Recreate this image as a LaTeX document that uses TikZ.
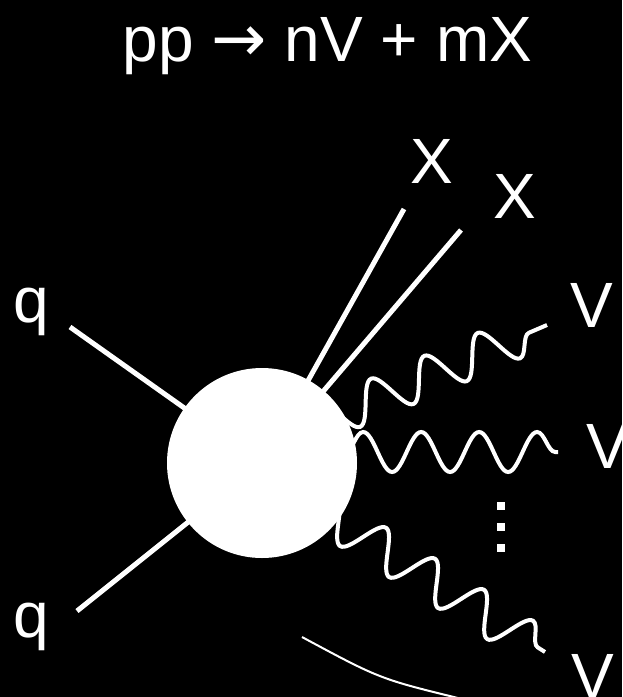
\documentclass[tikz,border=0pt]{standalone}
\usepackage{fontspec}
\setmainfont{Liberation Sans}
\newfontfamily\arrowfont{DejaVu Sans}
\usetikzlibrary{decorations.pathmorphing}
\begin{document}
\begin{tikzpicture}[x=1pt,y=-1pt,
  lbl/.style={text=white, font=\fontsize{64}{70}\selectfont, anchor=base, inner sep=0pt},
  quark/.style={draw=white, line width=5pt},
  photon/.style={draw=white, line width=4pt, decorate,
    decoration={snake, amplitude=20pt, segment length=58pt}},
  thinarc/.style={draw=white, line width=2pt},
  dotsq/.style={fill=white}
]
\fill[black] (0,0) rectangle (622,697);
\useasboundingbox (0,0) rectangle (622,697);
\clip (0,0) rectangle (622,697);

% title
\node[lbl] (title) at (327.5,61) {pp {\arrowfont\fontsize{66}{70}\selectfont →} nV + mX};

% external points
\coordinate (q1end) at (70,327);
\coordinate (q2end) at (77,611);
\coordinate (x1end) at (404,209);
\coordinate (x2end) at (461,230);
\coordinate (blobc) at (262,463);

% photon midlines
\coordinate (w1s) at (309,427);
\coordinate (w1e) at (547,325);
\coordinate (w2s) at (345,452);
\coordinate (w2e) at (558,452);
\coordinate (w3s) at (311,504);
\coordinate (w3e) at (545,652);

% lines into the blob
\draw[quark] (q1end) -- (blobc);
\draw[quark] (q2end) -- (blobc);
\draw[quark] (x1end) -- (blobc);
\draw[quark] (x2end) -- (blobc);

% photons
\draw[photon] (w1s) -- (w1e);
\draw[photon] (w2s) -- (w2e);
\draw[photon] (w3s) -- (w3e);

% blob
\node[circle, fill=white, minimum size=190pt, inner sep=0pt] (blob) at (blobc) {};

% labels
\node[lbl] (lq1) at (31,322) {q};
\node[lbl] (lq2) at (31,637) {q};
\node[lbl] (lx1) at (432,183) {X};
\node[lbl] (lx2) at (515,218) {X};
\node[lbl] (lv1) at (592,327) {V};
\node[lbl] (lv2) at (608,468) {V};
\node[lbl] (lv3) at (593,698) {V};

% vertical dots
\fill[dotsq] (497,502) rectangle (505,510);
\fill[dotsq] (497,523) rectangle (505,531);
\fill[dotsq] (497,544) rectangle (505,552);

% bottom arc
\coordinate (arcs) at (302,637);
\coordinate (arcc) at (380,679);
\coordinate (arce) at (462,699);
\draw[thinarc] (arcs) .. controls (arcc) .. (arce);
\end{tikzpicture}
\end{document}
